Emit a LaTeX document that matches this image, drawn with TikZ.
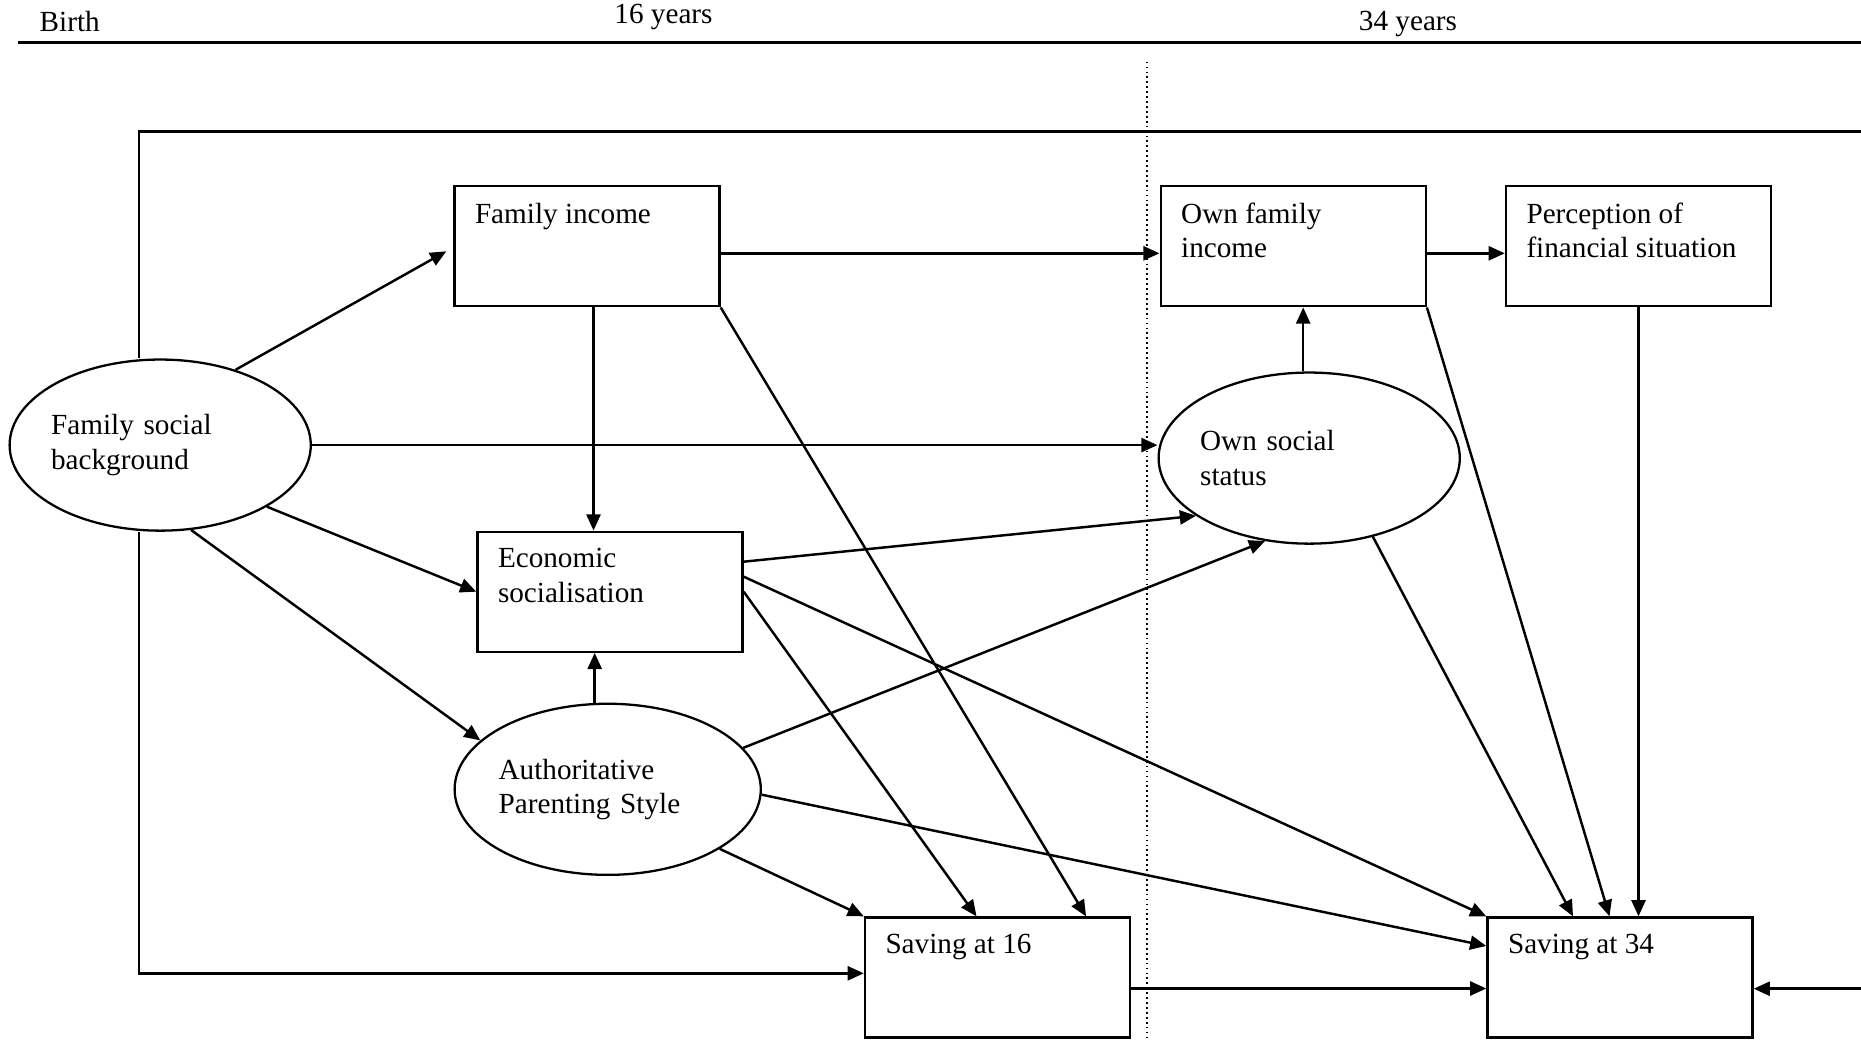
\documentclass[tikz,border=0pt]{standalone}
\usepackage{fontspec}
\setmainfont{Liberation Serif}
\usetikzlibrary{arrows.meta,shapes.geometric}

\begin{document}
\begin{tikzpicture}[x=0.01cm,y=-0.01cm,
    font=\fontsize{8.3}{9.8}\selectfont,
    box/.style={draw,line width=0.65pt,minimum width=2.65cm,minimum height=1.2cm,inner sep=0pt},
    boxtext/.style={anchor=north west,align=left,inner xsep=0.21cm,inner ysep=0.17cm},
    latent/.style={draw,ellipse,line width=0.65pt,inner ysep=0pt,inner xsep=-0.03cm,text width=2.18cm,
      align=left,minimum width=3.01cm,minimum height=1.71cm},
    arr/.style={line width=0.7pt,-{Triangle[length=4.6pt,width=4pt]}}]
    \useasboundingbox (0,0) rectangle (1861,1040);
    % time line
    \node[anchor=west,inner sep=0pt] (birth) at (39,22) {Birth};
    \node[inner sep=0pt] (age16) at (663.5,17) {16 years};
    \node[inner sep=0pt] (age34) at (1408,24) {34 years};
    \draw[line width=0.8pt] (18,42.7) -- (1861,42.7);
    \draw[line width=0.55pt,dash pattern=on 0.5pt off 0.9pt] (1146.6,61.7) -- (1146.6,1040);
    % variables
    \node[box] (finc) at (587,246.3) {};
    \node[boxtext] (finc-t) at (finc.north west) {Family income};
    \node[box] (ofinc) at (1293.2,246.3) {};
    \node[boxtext] (ofinc-t) at (ofinc.north west) {Own family\\income};
    \node[box] (perc) at (1638.5,246.3) {};
    \node[boxtext] (perc-t) at (perc.north west) {Perception of\\financial situation};
    \node[box] (econ) at (610,591.7) {};
    \node[boxtext] (econ-t) at (econ.north west) {Economic\\socialisation};
    \node[box] (s16) at (997.5,977.5) {};
    \node[boxtext] (s16-t) at (s16.north west) {Saving at 16};
    \node[box] (s34) at (1620,977.5) {};
    \node[boxtext] (s34-t) at (s34.north west) {Saving at 34};
    \node[latent] (fsb) at (160.2,445.1) {Family social\\background};
    \node[latent] (oss) at (1309.2,458.1) {Own social\\status};
    \node[latent,minimum width=3.06cm] (aps) at (607.7,789.3) {Authoritative\\Parenting Style};
    % outer path
    \coordinate (lpt) at (138.9,131.7);
    \coordinate (lpr) at (1861,131.7);
    \coordinate (lpb) at (138.9,973.3);
    \coordinate (rin) at (1861,988.7);
    \draw[line width=0.7pt] (fsb.north -| lpt) -- (lpt) -- (lpr);
    \draw[arr] (fsb.south -| lpt) -- (lpb) -- (lpb -| s16.west);
    \draw[arr] (rin) -- (rin -| s34.east);
    % paths
    \draw[arr] (fsb.45) -- ([xshift=-0.07cm,yshift=-0.05cm]finc.west);
    \draw[arr] (fsb.east) -- (fsb.east -| oss.west);
    \draw[arr] (fsb.-30) -- (econ.west);
    \draw[arr] (fsb.-70) -- (aps.159);
    \draw[arr] ([yshift=-0.07cm]finc.east) -- ([yshift=-0.07cm]ofinc.west);
    \draw[arr] ([xshift=0.065cm]finc.south) -- ([xshift=0.065cm]finc.south |- econ.north);
    \draw[arr] (finc.south east) -- ([xshift=0.885cm]s16.north);
    \draw[arr] ([yshift=-0.07cm]ofinc.east) -- ([yshift=-0.07cm]perc.west);
    \draw[arr] ([xshift=-0.06cm]oss.north) -- ([xshift=-0.06cm]oss.north |- ofinc.south);
    \draw[arr] (ofinc.south east) -- ([xshift=-0.105cm]s34.north);
    \draw[arr] (perc.south) -- (perc.south |- s34.north);
    \draw[arr] (oss.309) -- ([xshift=-0.47cm]s34.north);
    \draw[arr] ([yshift=0.3cm]econ.east) -- (oss.207);
    \draw[arr] ([yshift=0.15cm]econ.east) -- (s34.north west);
    \draw[arr] (econ.east) -- ([xshift=-0.21cm]s16.north);
    \draw[arr] ([xshift=-0.13cm]aps.north) -- ([xshift=-0.13cm]aps.north |- econ.south);
    \draw[arr] (aps.17) -- (oss.242);
    \draw[arr] (aps.-2) -- ([yshift=0.315cm]s34.west);
    \draw[arr] (aps.-28) -- (s16.north west);
    \draw[arr] ([yshift=-0.11cm]s16.east) -- ([yshift=-0.11cm]s34.west);
\end{tikzpicture}
\end{document}
